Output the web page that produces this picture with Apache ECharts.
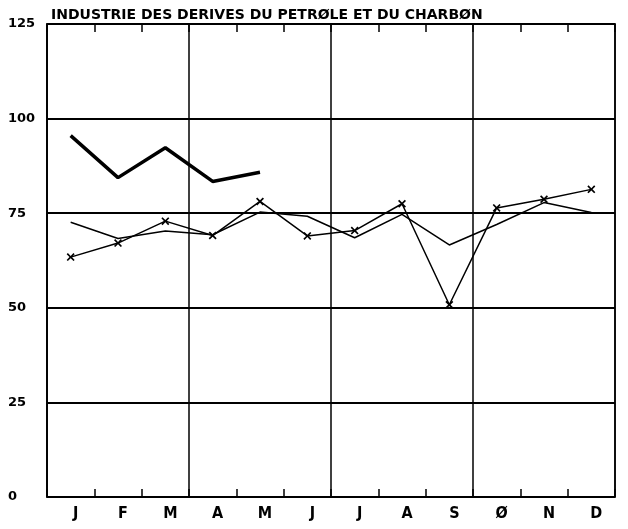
<!DOCTYPE html>
<html>
<head>
<meta charset="utf-8">
<script src="https://cdn.jsdelivr.net/npm/echarts@6/dist/echarts.min.js"></script>
<style>
  html, body { margin: 0; padding: 0; background: #fff; }
  #chart { width: 628px; height: 529px; }
</style>
</head>
<body>
<div id="chart"></div>
<script>
var title = 'INDUSTRIE DES DERIVES DU PETRØLE ET DU CHARBØN'
var months = ['J', 'F', 'M', 'A', 'M', 'J', 'J', 'A', 'S', 'Ø', 'N', 'D']
var yTicks = [0, 25, 50, 75, 100, 125]
// courbe épaisse (jan-mai seulement)
var thickLine = [95.5, 84.4, 92.3, 83.4, 85.8]
// courbe fine avec croix
var crossLine = [63.4, 67.1, 72.9, 69.1, 78.1, 69.0, 70.4, 77.5, 50.8, 76.4, 78.7, 81.3]
// courbe fine sans marque
var plainLine = [72.6, 68.3, 70.3, 69.3, 75.3, 74.2, 68.5, 74.7, 66.6, 72.0, 77.8, 75.2]

var crossSymbol = 'path://M0,1.5L1.5,0L5,3.5L8.5,0L10,1.5L6.5,5L10,8.5L8.5,10L5,6.5L1.5,10L0,8.5L3.5,5Z'

var chart = echarts.init(document.getElementById('chart'))
chart.setOption({
  backgroundColor: '#fff',
  animation: false,
  title: {
    text: title,
    left: 46,
    top: 3,
    textStyle: {
      fontFamily: 'DejaVu Sans',
      fontWeight: 'bold',
      fontSize: 14,
      color: '#000'
    }
  },
  grid: {
    left: 47,
    right: 13,
    top: 24,
    bottom: 32,
    show: true,
    borderColor: '#000',
    borderWidth: 1.5
  },
  xAxis: [
    {
      type: 'category',
      data: months,
      boundaryGap: true,
      axisLine: { lineStyle: { color: '#000', width: 1.5 } },
      axisTick: { show: true, inside: true, length: 8, interval: 0, lineStyle: { color: '#000', width: 1.5 } },
      axisLabel: {
        interval: 0,
        margin: 9,
        padding: [0, 0, 0, 10],
        fontFamily: 'DejaVu Sans Condensed',
        fontWeight: 'bold',
        fontSize: 16,
        color: '#000'
      },
      splitLine: {
        show: true,
        interval: function (i) { return i % 3 === 0 },
        lineStyle: { color: '#000', width: 1.5 }
      }
    },
    {
      type: 'category',
      data: months,
      position: 'top',
      boundaryGap: true,
      axisLine: { lineStyle: { color: '#000', width: 1.5 } },
      axisTick: { show: true, inside: true, length: 8, interval: 0, lineStyle: { color: '#000', width: 1.5 } },
      axisLabel: { show: false },
      splitLine: { show: false }
    }
  ],
  yAxis: {
    type: 'value',
    min: yTicks[0],
    max: yTicks[yTicks.length - 1],
    interval: 25,
    axisLine: { show: true, lineStyle: { color: '#000', width: 1.5 } },
    axisTick: { show: false },
    axisLabel: {
      align: 'left',
      margin: 39,
      fontFamily: 'DejaVu Sans',
      fontWeight: 'bold',
      fontSize: 13,
      color: '#000'
    },
    splitLine: { lineStyle: { color: '#000', width: 2 } }
  },
  series: [
    {
      name: 'epais',
      type: 'line',
      data: thickLine,
      symbol: 'none',
      lineStyle: { color: '#000', width: 3.5 }
    },
    {
      name: 'croix',
      type: 'line',
      data: crossLine,
      symbol: crossSymbol,
      symbolSize: 8,
      itemStyle: { color: '#000' },
      lineStyle: { color: '#000', width: 1.5 }
    },
    {
      name: 'simple',
      type: 'line',
      data: plainLine,
      symbol: 'none',
      lineStyle: { color: '#000', width: 1.5 }
    }
  ]
})
</script>
</body>
</html>
